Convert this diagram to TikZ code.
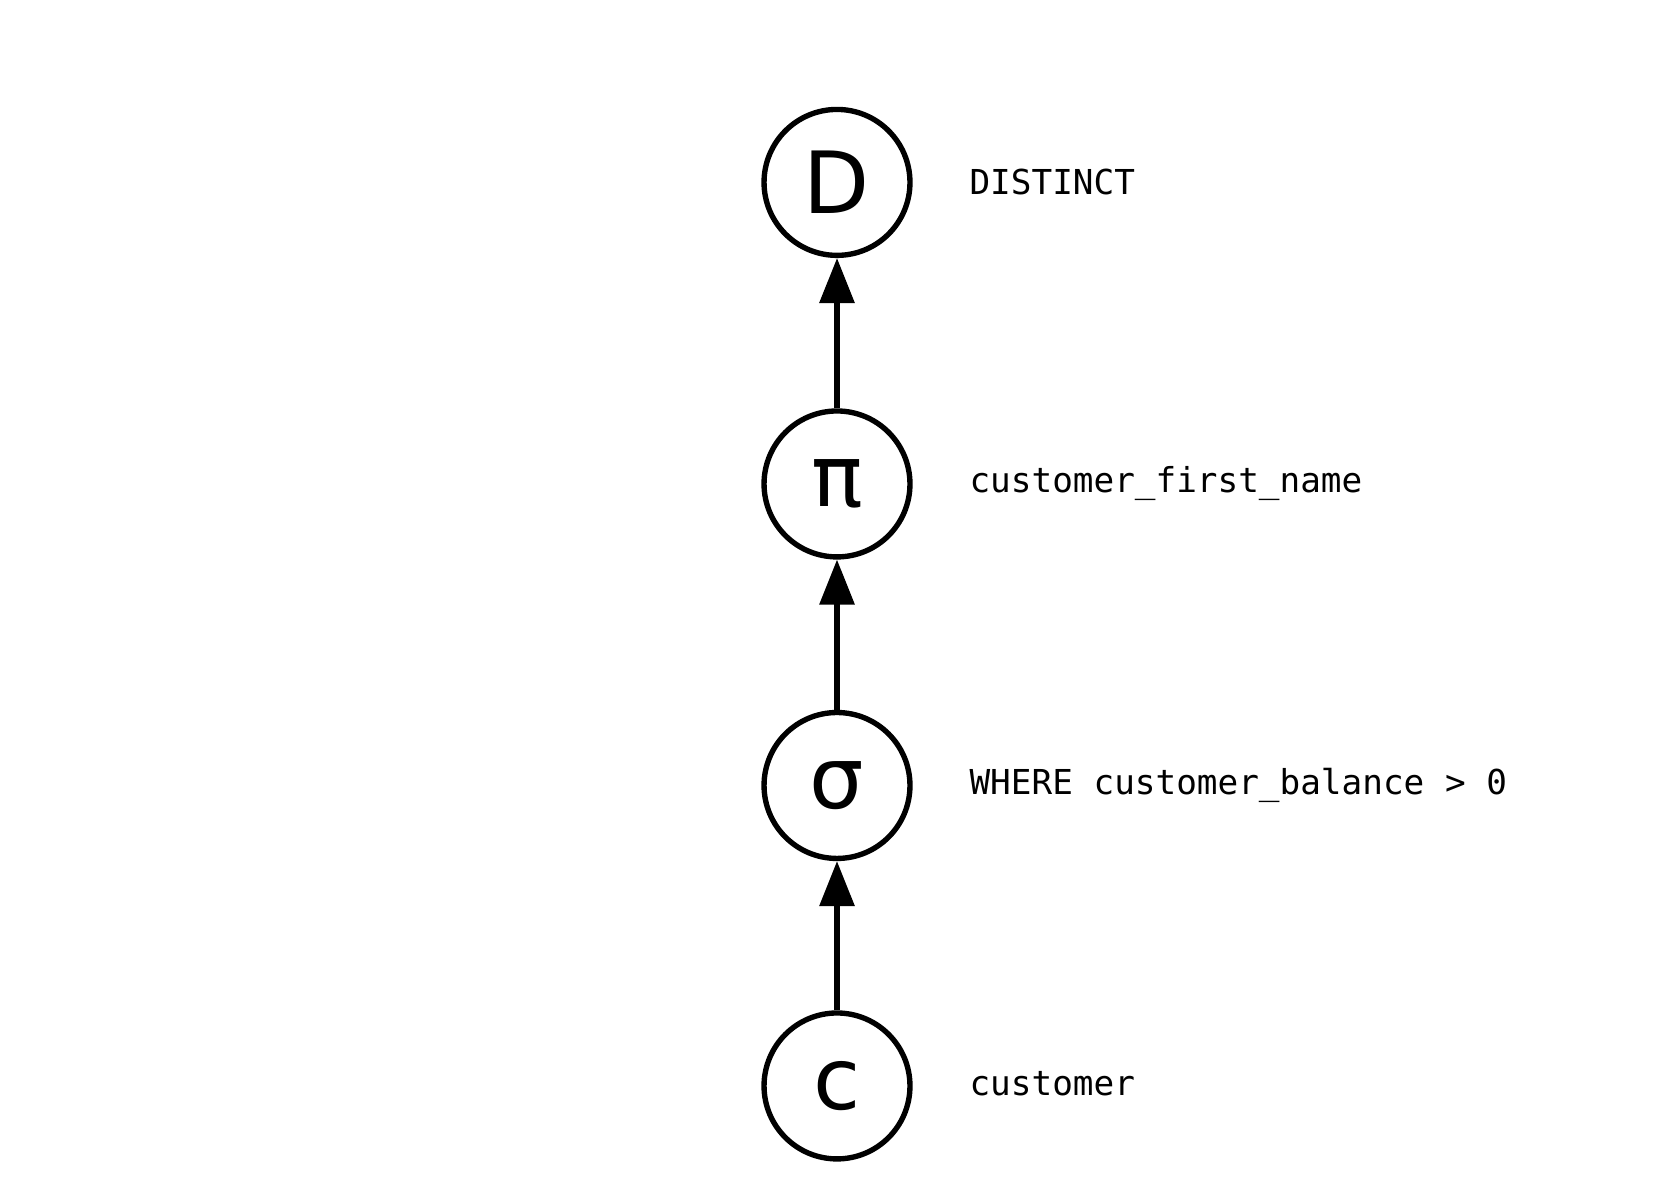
\documentclass[tikz,border=0pt]{standalone}
\usepackage{fontspec}
\setmainfont{DejaVu Sans}
\setmonofont{DejaVu Sans Mono}
\usetikzlibrary{arrows.meta}
\begin{document}
\begin{tikzpicture}[x=1pt,y=1pt,
  op/.style={circle,draw,line width=5pt,minimum size=136pt,inner sep=0pt,font=\fontsize{80}{80}\selectfont},
  lab/.style={anchor=west,font=\ttfamily\fontsize{32}{32}\selectfont},
  arr/.style={line width=5pt,-{Triangle[length=42pt,width=32pt]}}]
\useasboundingbox (0,0) rectangle (1560,1118);
\node[op] (d) at (780,948) {D};
\node[op] (p) at (780,667) {π};
\node[op] (s) at (780,386) {σ};
\node[op] (c) at (780,106) {c};
\node[lab] (ld) at (900,948) {DISTINCT};
\node[lab] (lp) at (900,667) {customer\_first\_name};
\node[lab] (ls) at (900,386) {WHERE customer\_balance > 0};
\node[lab] (lc) at (900,108) {customer};
\draw[arr] (c) -- (s);
\draw[arr] (s) -- (p);
\draw[arr] (p) -- (d);
\end{tikzpicture}
\end{document}
